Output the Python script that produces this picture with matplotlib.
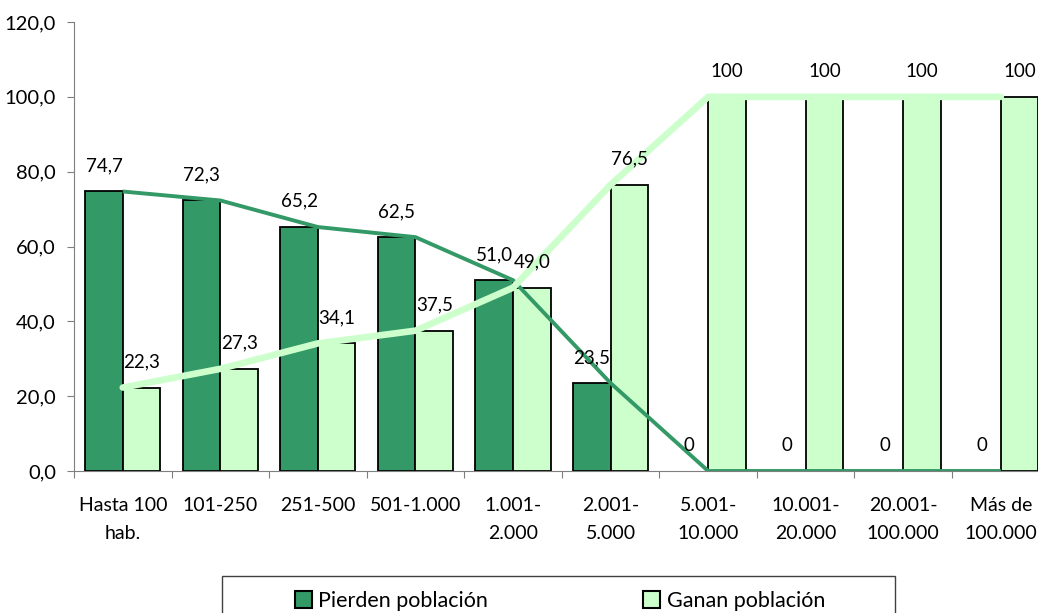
import matplotlib.pyplot as plt
from matplotlib.patches import Patch, Rectangle
import numpy as np

plt.rcParams['font.family'] = ['Lato', 'DejaVu Sans']

categories = ["Hasta 100\nhab.", "101-250", "251-500", "501-1.000", "1.001-\n2.000",
              "2.001-\n5.000", "5.001-\n10.000", "10.001-\n20.000", "20.001-\n100.000",
              "Más de\n100.000"]
pierden = [74.7, 72.3, 65.2, 62.5, 51.0, 23.5, 0, 0, 0, 0]
ganan = [22.3, 27.3, 34.1, 37.5, 49.0, 76.5, 100, 100, 100, 100]
pierden_labels = ["74,7", "72,3", "65,2", "62,5", "51,0", "23,5", "0", "0", "0", "0"]
ganan_labels = ["22,3", "27,3", "34,1", "37,5", "49,0", "76,5", "100", "100", "100", "100"]

dark = "#339966"
light = "#ccffcc"
axis_col = "#7f7f7f"

W, H = 1038, 613
fig = plt.figure(figsize=(W / 100, H / 100), dpi=100)
# plot area runs past the right edge of the picture, like the original
ax = fig.add_axes([74 / W, (H - 471) / H, 975.6 / W, 449 / H])

x = np.arange(len(categories))
bw = 0.385
# zero-height bars get no outline
ax.bar(x - bw / 2, pierden, bw, color=dark, edgecolor="black",
       linewidth=[1.3 if v > 0 else 0 for v in pierden], zorder=2)
ax.bar(x + bw / 2, ganan, bw, color=light, edgecolor="black",
       linewidth=[1.3 if v > 0 else 0 for v in ganan], zorder=2)

ax.plot(x, pierden, color=dark, lw=2.8, zorder=3, solid_capstyle="butt")
ax.plot(x, ganan, color=light, lw=4.8, zorder=4, solid_capstyle="round")

fs = 13.5
for i in range(len(x)):
    ax.annotate(pierden_labels[i], (x[i] - bw / 2, pierden[i]), xytext=(0, 18.5),
                textcoords="offset points", ha="center", va="center", fontsize=fs, zorder=5)
    ax.annotate(ganan_labels[i], (x[i] + bw / 2, ganan[i]), xytext=(0, 18.5),
                textcoords="offset points", ha="center", va="center", fontsize=fs, zorder=5)

ax.set_xlim(-0.5, 9.5)
ax.set_ylim(0, 120)
ax.set_yticks(np.arange(0, 121, 20))
ax.set_yticklabels([f"{v:.1f}".replace(".", ",") for v in np.arange(0, 121, 20)], fontsize=14.5)
ax.set_xticks(np.arange(-0.5, 10, 1))
ax.set_xticklabels([])
ax.set_xticks(x, minor=True)
ax.set_xticklabels(categories, minor=True, fontsize=14, linespacing=1.75)
ax.tick_params(axis="x", which="minor", length=0, pad=19)
ax.tick_params(axis="x", which="major", length=5, direction="out", color=axis_col)
ax.tick_params(axis="y", length=5, direction="out", pad=8, color=axis_col)
for s in ["top", "right"]:
    ax.spines[s].set_visible(False)
ax.spines["left"].set_color(axis_col)
ax.spines["bottom"].set_color(axis_col)

# legend box, cut off at the bottom edge like the original
fig.patches.append(Rectangle((222 / W, (H - 640) / H), 673 / W, 64 / H,
                             transform=fig.transFigure, fill=False,
                             edgecolor="#404040", linewidth=1))
handles = [Patch(facecolor=dark, edgecolor="black", linewidth=1.5, label="Pierden población"),
           Patch(facecolor=light, edgecolor="black", linewidth=1.5, label="Ganan población")]
fig.legend(handles=handles, loc="center", bbox_to_anchor=(560 / W, (H - 601) / H),
           ncol=2, frameon=False, fontsize=15.5, handlelength=0.8, handleheight=0.8,
           handletextpad=0.3, columnspacing=7.2)

fig.savefig("out.png", dpi=100)
